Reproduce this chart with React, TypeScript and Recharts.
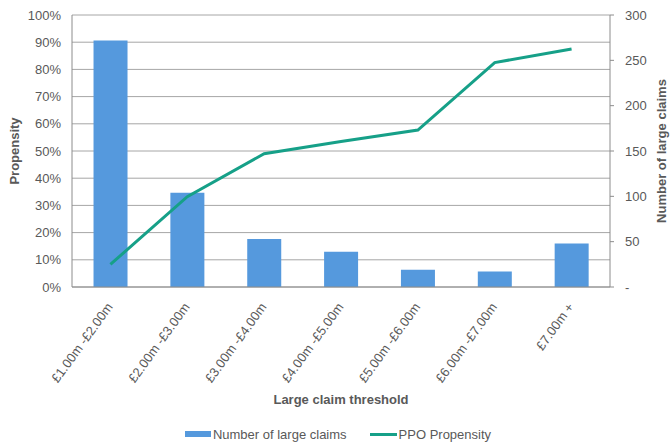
import React from "react";
import {
  ComposedChart,
  Bar,
  Line,
  XAxis,
  YAxis,
  CartesianGrid,
  Legend,
} from "recharts";

// Claim-size bands
const thresholds = [
  "£1.00m -£2.00m",
  "£2.00m -£3.00m",
  "£3.00m -£4.00m",
  "£4.00m -£5.00m",
  "£5.00m -£6.00m",
  "£6.00m -£7.00m",
  "£7.00m +",
];

// Number of large claims in each band (right axis)
const largeClaims = [272, 104, 53, 39, 19, 17, 48];

// PPO propensity in each band (left axis, share)
const ppoPropensity = [0.083, 0.332, 0.49, 0.535, 0.577, 0.825, 0.875];

const propensityTicks = [0, 0.1, 0.2, 0.3, 0.4, 0.5, 0.6, 0.7, 0.8, 0.9, 1];
const claimTicks = [0, 50, 100, 150, 200, 250, 300];

const data = thresholds.map((band, i) => ({
  band,
  claims: largeClaims[i],
  propensity: ppoPropensity[i],
}));

const FONT = "'Liberation Sans', Arial, sans-serif";
const TEXT = "#595959";
const BAR = "#5599DD";
const LINE = "#16A088";
const GRID = "#A6A6A6";

const RotatedTick = (props: any) => {
  const { x, y, payload } = props;
  const ax = x + 3;
  const ay = y + 20;
  return (
    <text
      x={ax}
      y={ay}
      transform={`rotate(-54, ${ax}, ${ay})`}
      textAnchor="end"
      fill={TEXT}
      fontSize={13}
      fontFamily={FONT}
    >
      {payload.value}
    </text>
  );
};

const LegendContent = () => (
  <div
    style={{
      display: "flex",
      justifyContent: "center",
      alignItems: "center",
      height: 28,
      fontFamily: FONT,
      fontSize: 13,
      color: TEXT,
      paddingLeft: 6,
    }}
  >
    <span
      style={{
        display: "inline-block",
        width: 26,
        height: 6,
        background: BAR,
        marginRight: 2,
      }}
    />
    <span style={{ marginRight: 23 }}>Number of large claims</span>
    <span
      style={{
        display: "inline-block",
        width: 27,
        height: 3,
        background: LINE,
        marginRight: 2,
      }}
    />
    <span>PPO Propensity</span>
  </div>
);

export default function App() {
  return (
    <div style={{ position: "absolute", left: 0, top: 0 }}>
      <ComposedChart
        width={670}
        height={448}
        data={data}
        margin={{ top: 15, right: 0, bottom: 0, left: 0 }}
        barCategoryGap="28%"
      >
        <CartesianGrid
          yAxisId="pct"
          vertical={false}
          stroke={GRID}
          strokeWidth={1}
        />
        <XAxis
          dataKey="band"
          interval={0}
          tickSize={0}
          tickMargin={0}
          tickLine={false}
          axisLine={{ stroke: "#8C8C8C" }}
          tick={<RotatedTick />}
          height={133}
          label={{
            value: "Large claim threshold",
            position: "insideBottom",
            offset: 16,
            fill: TEXT,
            fontSize: 13,
            fontWeight: "bold",
            fontFamily: FONT,
          }}
        />
        <YAxis
          yAxisId="pct"
          orientation="left"
          width={72}
          domain={[0, 1]}
          ticks={propensityTicks}
          tickFormatter={(v: number) => `${Math.round(v * 100)}%`}
          tickLine={false}
          tickSize={0}
          tickMargin={11}
          axisLine={{ stroke: "#8C8C8C" }}
          tick={{ fill: TEXT, fontSize: 13, fontFamily: FONT }}
          label={{
            value: "Propensity",
            angle: -90,
            position: "insideLeft",
            offset: 14,
            style: { textAnchor: "middle" },
            fill: TEXT,
            fontSize: 13,
            fontWeight: "bold",
            fontFamily: FONT,
          }}
        />
        <YAxis
          yAxisId="count"
          orientation="right"
          width={60}
          domain={[0, 300]}
          ticks={claimTicks}
          tickFormatter={(v: number) => (v === 0 ? "-" : String(v))}
          tickSize={4}
          tickMargin={11}
          tickLine={{ stroke: "#8C8C8C" }}
          axisLine={{ stroke: "#8C8C8C" }}
          tick={{ fill: TEXT, fontSize: 13, fontFamily: FONT, textAnchor: "start" }}
          label={{
            value: "Number of large claims",
            angle: -90,
            position: "insideRight",
            offset: 9,
            style: { textAnchor: "middle" },
            fill: TEXT,
            fontSize: 13,
            fontWeight: "bold",
            fontFamily: FONT,
          }}
        />
        <Bar
          yAxisId="count"
          dataKey="claims"
          name="Number of large claims"
          fill={BAR}
          isAnimationActive={false}
        />
        <Line
          yAxisId="pct"
          dataKey="propensity"
          name="PPO Propensity"
          type="linear"
          stroke={LINE}
          strokeWidth={3}
          dot={false}
          activeDot={false}
          isAnimationActive={false}
        />
        <Legend height={28} verticalAlign="bottom" content={<LegendContent />} />
      </ComposedChart>
    </div>
  );
}
